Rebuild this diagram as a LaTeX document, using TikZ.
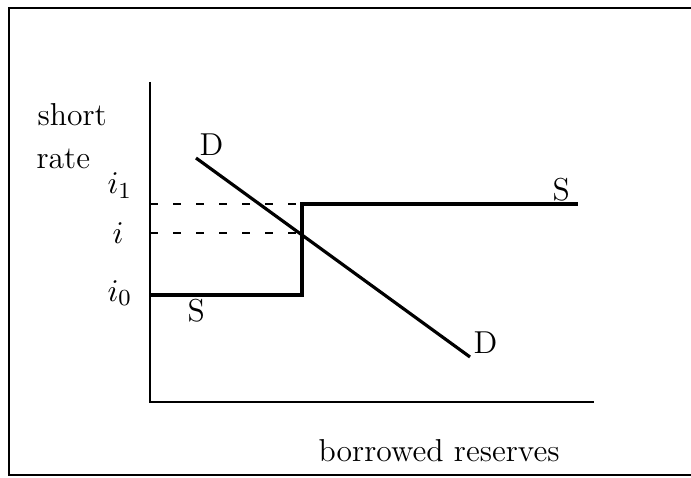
\documentclass[tikz,border=0pt]{standalone}
\begin{document}
\begin{tikzpicture}[x=0.347pt,y=-0.347pt,
  axis/.style={line width=1pt},
  curve/.style={line width=1.1pt},
  guide/.style={line width=1pt,dash pattern=on 2.8pt off 5.2pt},
  frame/.style={line width=0.8pt},
  lbl/.style={inner sep=0pt,anchor=base west,font=\fontsize{11}{13}\selectfont}]
\useasboundingbox (0,0) rectangle (691,477);
% frame (top, left, bottom)
\coordinate (ftr) at (691,8);
\coordinate (ftl) at (9,8);
\coordinate (fbl) at (9,475);
\coordinate (fbr) at (691,475);
\draw[frame] (ftr) -- (ftl) -- (fbl) -- (fbr);
% axes
\coordinate (ytop) at (150,82);
\coordinate (orig) at (150,402);
\coordinate (xend) at (594,402);
\draw[axis] (ytop) -- (orig) -- (xend);
% supply step
\coordinate (s0) at (150,295);
\coordinate (s1) at (302,295);
\coordinate (s2) at (302,204);
\coordinate (s3) at (578,204);
\draw[curve] (s0) -- (s1) -- (s2) -- (s3);
% guides
\coordinate (g1a) at (150,204);
\coordinate (g2a) at (150,233);
\coordinate (g2b) at (302,233);
\draw[guide] (g1a) -- (s2);
\draw[guide] (g2a) -- (g2b);
% demand
\coordinate (d0) at (196,158);
\coordinate (d1) at (470,357);
\draw[curve] (d0) -- (d1);
% labels
\node[lbl] (short) at (37,125) {short};
\node[lbl] (rate) at (36,168) {rate};
\node[lbl] (li1) at (107,194) {$i_1$};
\node[lbl] (li) at (112,243) {$i$};
\node[lbl] (li0) at (107,301) {$i_0$};
\node[lbl] (dtop) at (199,155) {D};
\node[lbl] (dbot) at (473,353) {D};
\node[lbl] (stop) at (552,201) {S};
\node[lbl] (sbot) at (187,321) {S};
\node[lbl] (xlab) at (318,461) {borrowed reserves};
\end{tikzpicture}
\end{document}
